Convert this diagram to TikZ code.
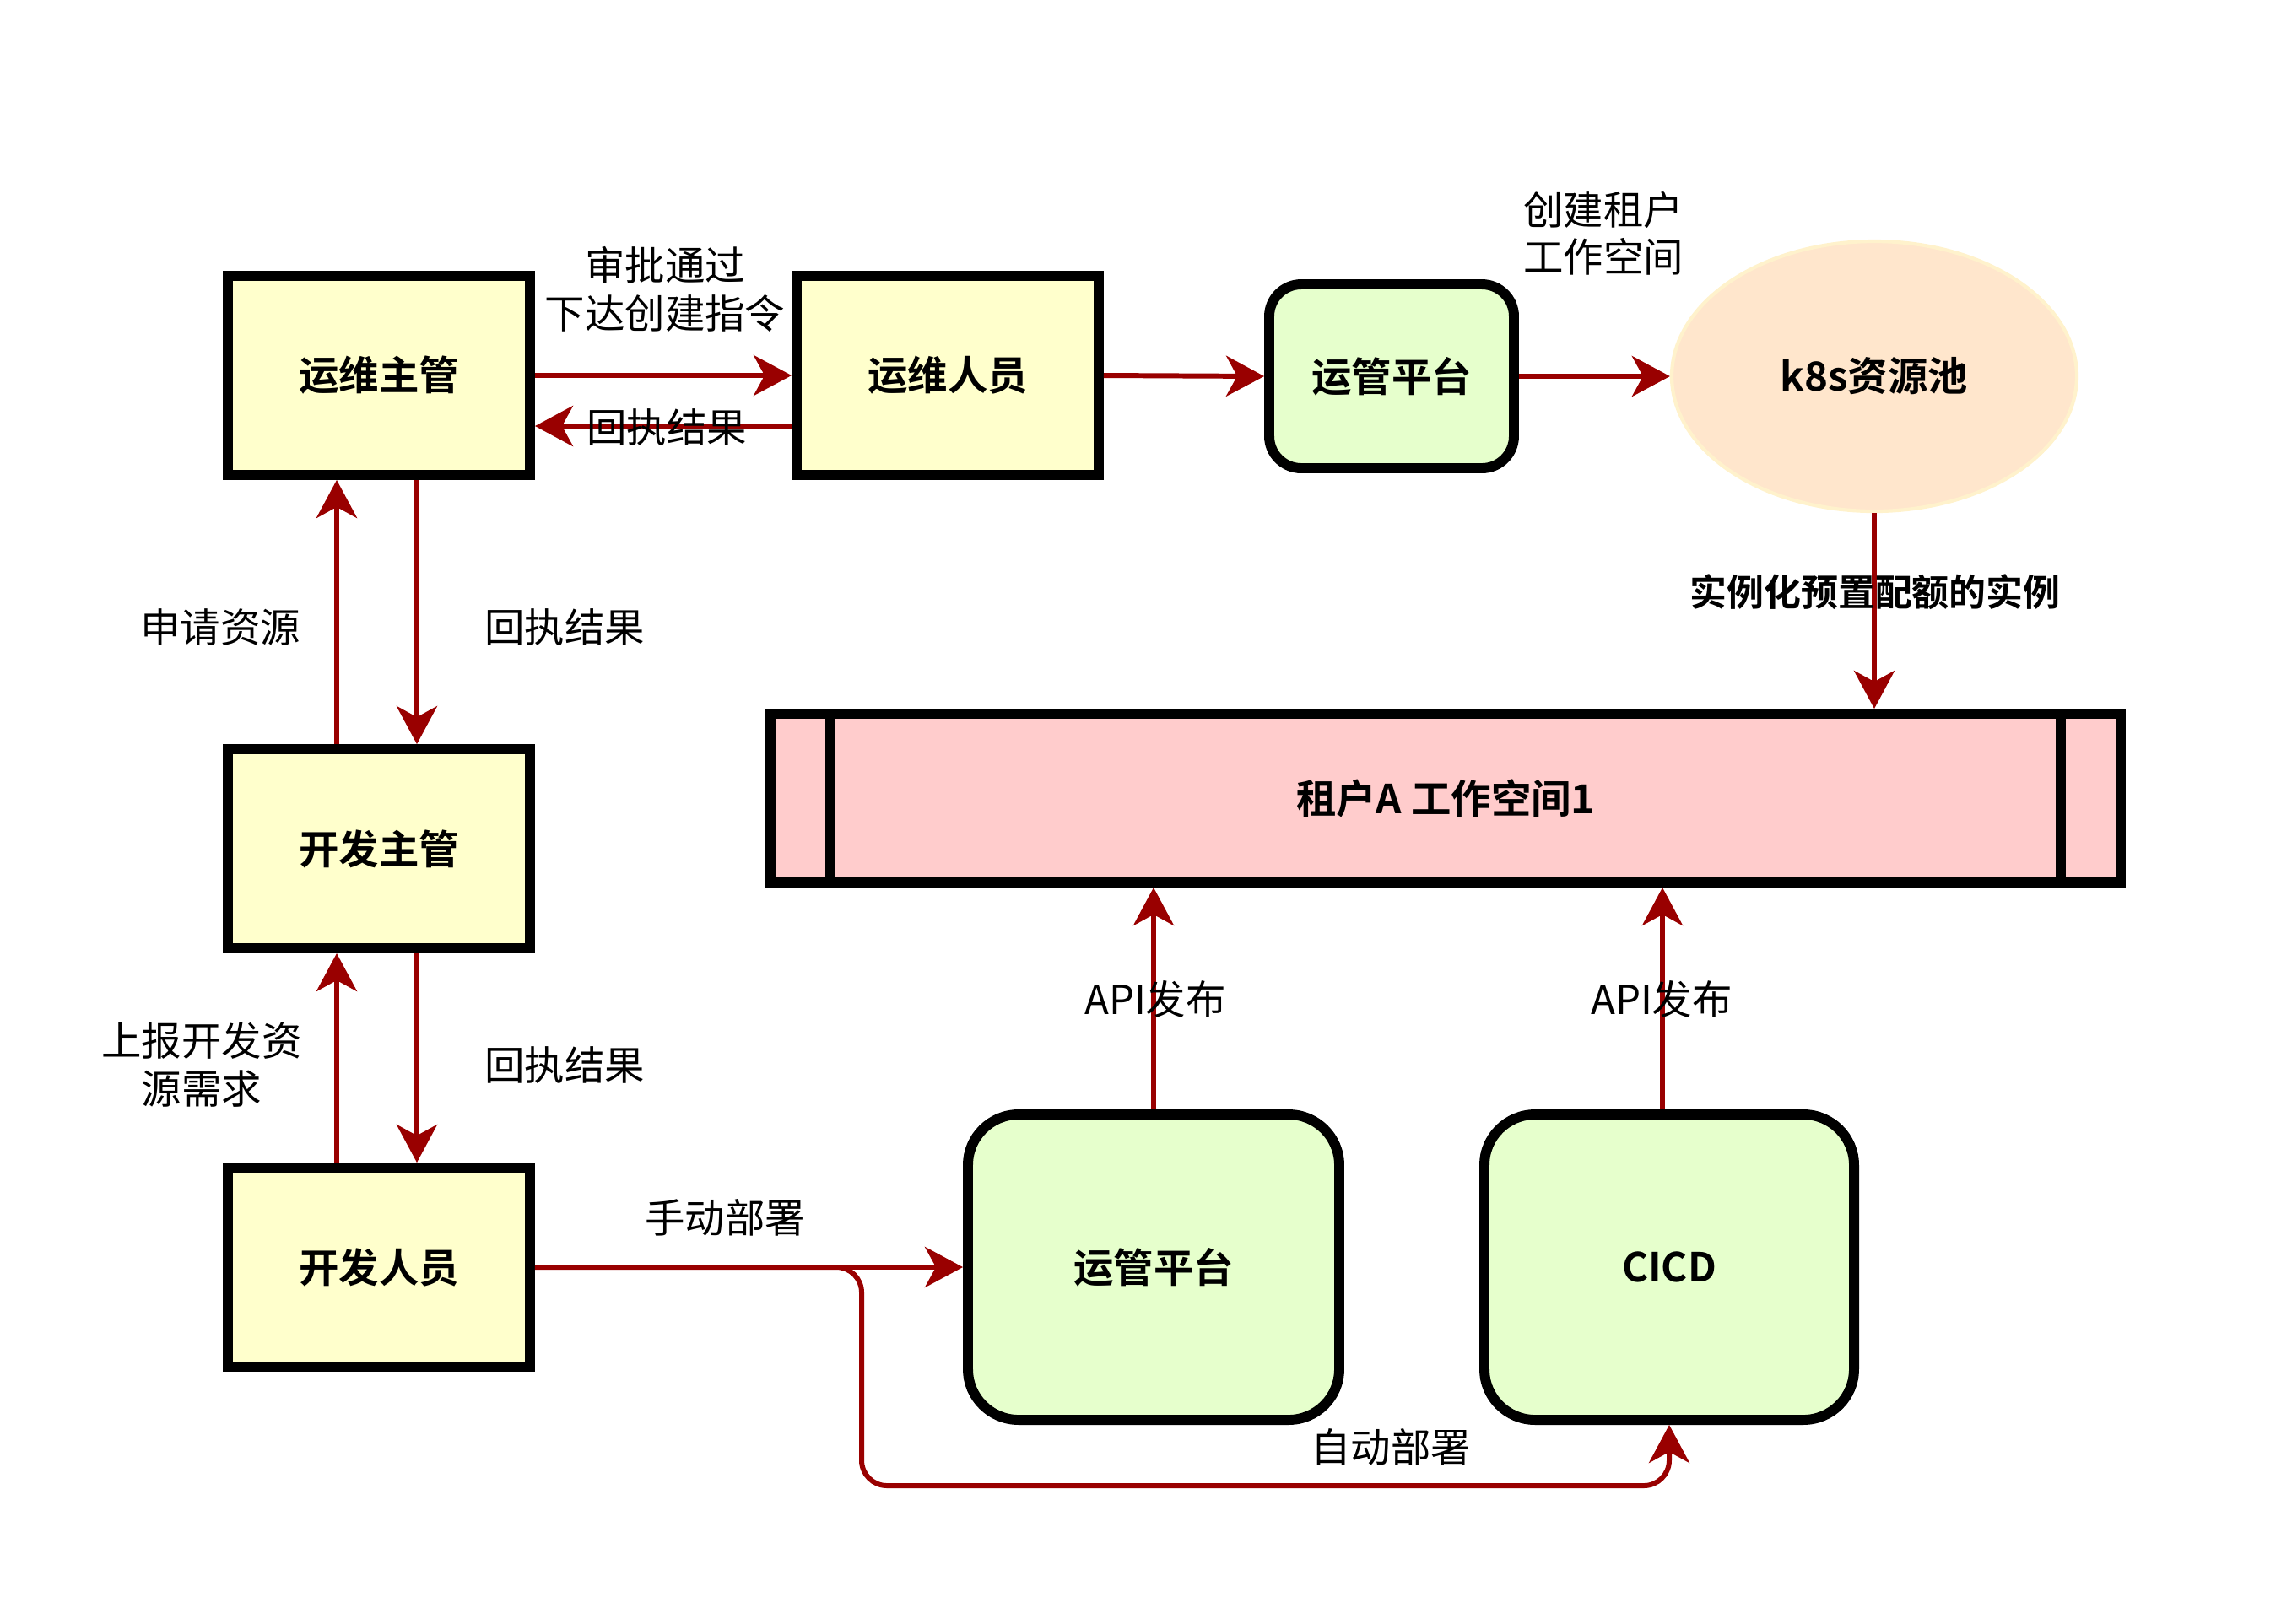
\documentclass[tikz,border=0pt]{standalone}
\usepackage{fontspec}
\setmainfont{Noto Sans CJK SC}[BoldFont={Noto Sans CJK SC Bold}]
\usepackage{xcolor}
\usepackage{tikz}
\usetikzlibrary{arrows.meta, positioning, shapes.geometric}

\definecolor{edgered}{HTML}{990000}
\definecolor{roleyellow}{HTML}{FFFFCC}
\definecolor{platgreen}{HTML}{E6FFCC}
\definecolor{poolfill}{HTML}{FFE6CC}
\definecolor{poolline}{HTML}{FFF2CC}
\definecolor{wspink}{HTML}{FFCCCC}

\begin{document}
\begin{tikzpicture}[font=\fontsize{13.5}{16}\selectfont,
  rolebox/.style={draw, line width=3.4pt, fill=roleyellow, minimum width=3.58cm, minimum height=2.36cm, inner sep=0pt, font=\fontsize{13.5}{16}\selectfont\bfseries},
  platbox/.style={draw, line width=3.4pt, fill=platgreen, inner sep=0pt, font=\fontsize{13.5}{16}\selectfont\bfseries},
  arr/.style={draw=edgered, line width=1.7pt, -{Stealth[length=0.45cm, width=0.48cm, inset=0.13cm]}},
  lbl/.style={align=center}]
        \useasboundingbox (0,0) rectangle (27.16,-19.24);
        % ops side
        \node[rolebox] (opsmgr) at (4.49,-4.45) {运维主管};
        \node[rolebox] (opsstaff) at (11.23,-4.45) {运维人员};
        \node[platbox, rounded corners=0.38cm, minimum width=2.9cm, minimum height=2.18cm] (opsplat) at (16.49,-4.46) {运管平台};
        \node[ellipse, draw=poolline, line width=1.2pt, fill=poolfill, minimum width=4.8cm, minimum height=3.2cm, inner sep=0pt, font=\fontsize{13.5}{16}\selectfont\bfseries] (k8s) at (22.21,-4.46) {k8s资源池};
        % dev side
        \node[rolebox] (devmgr) at (4.49,-10.06) {开发主管};
        \node[rolebox] (devstaff) at (4.49,-15.02) {开发人员};
        % workspace
        \node[draw, line width=3.4pt, fill=wspink, minimum width=16.0cm, minimum height=2.0cm, font=\fontsize{13.5}{16}\selectfont\bfseries] (ws) at (17.13,-9.46) {租户A 工作空间1};
        \draw[line width=3.4pt] ([xshift=0.77cm]ws.north west) -- ([xshift=0.77cm]ws.south west);
        \draw[line width=3.4pt] ([xshift=-0.77cm]ws.north east) -- ([xshift=-0.77cm]ws.south east);
        % deploy targets
        \node[platbox, rounded corners=0.6cm, minimum width=4.4cm, minimum height=3.62cm] (platb) at (13.67,-15.02) {运管平台};
        \node[platbox, rounded corners=0.6cm, minimum width=4.38cm, minimum height=3.62cm] (cicd) at (19.78,-15.02) {CICD};
        % top chain
        \draw[arr] (opsmgr.east) -- (opsstaff.west);
        \draw[arr] ([yshift=-0.6cm]opsstaff.west) -- ([yshift=-0.6cm]opsmgr.east);
        \draw[arr] (opsstaff.east) -- (opsplat.west);
        \draw[arr] (opsplat.east) -- (k8s.west);
        \draw[arr] (k8s.south) -- (k8s.south |- ws.north);
        % left column
        \draw[arr] ([xshift=-0.5cm]devmgr.north) -- ([xshift=-0.5cm]opsmgr.south);
        \draw[arr] ([xshift=0.45cm]opsmgr.south) -- ([xshift=0.45cm]devmgr.north);
        \draw[arr] ([xshift=-0.5cm]devstaff.north) -- ([xshift=-0.5cm]devmgr.south);
        \draw[arr] ([xshift=0.45cm]devmgr.south) -- ([xshift=0.45cm]devstaff.north);
        % deploy
        \coordinate (bend) at (10.21,-17.61);
        \draw[arr] (devstaff.east) -- (platb.west);
        \draw[arr, rounded corners=0.3cm] (devstaff.east) -| (bend) -| (cicd.south);
        \coordinate (cicdtop) at ([xshift=-0.08cm]cicd.north);
        \draw[arr] (platb.north) -- (platb.north |- ws.south);
        \draw[arr] (cicdtop) -- (cicdtop |- ws.south);
        % labels
        \node[lbl] (approve) at (7.88,-3.43) {审批通过\\下达创建指令};
        \node (reply1) at (7.90,-5.06) {回执结果};
        \node[lbl] (create) at (19.00,-2.76) {创建租户\\工作空间};
        \node[font=\fontsize{12.5}{15}\selectfont\bfseries] (inst) at (22.22,-7.02) {实例化预置配额的实例};
        \node (apply) at (2.61,-7.43) {申请资源};
        \node (reply2) at (6.69,-7.43) {回执结果};
        \node[lbl] (report) at (2.39,-12.62) {上报开发资\\源需求};
        \node (reply3) at (6.69,-12.62) {回执结果};
        \node (manual) at (8.59,-14.43) {手动部署};
        \node (auto) at (16.48,-17.15) {自动部署};
        \node (api1) at (13.69,-11.84) {API发布};
        \node (api2) at (19.69,-11.84) {API发布};
\end{tikzpicture}
\end{document}
